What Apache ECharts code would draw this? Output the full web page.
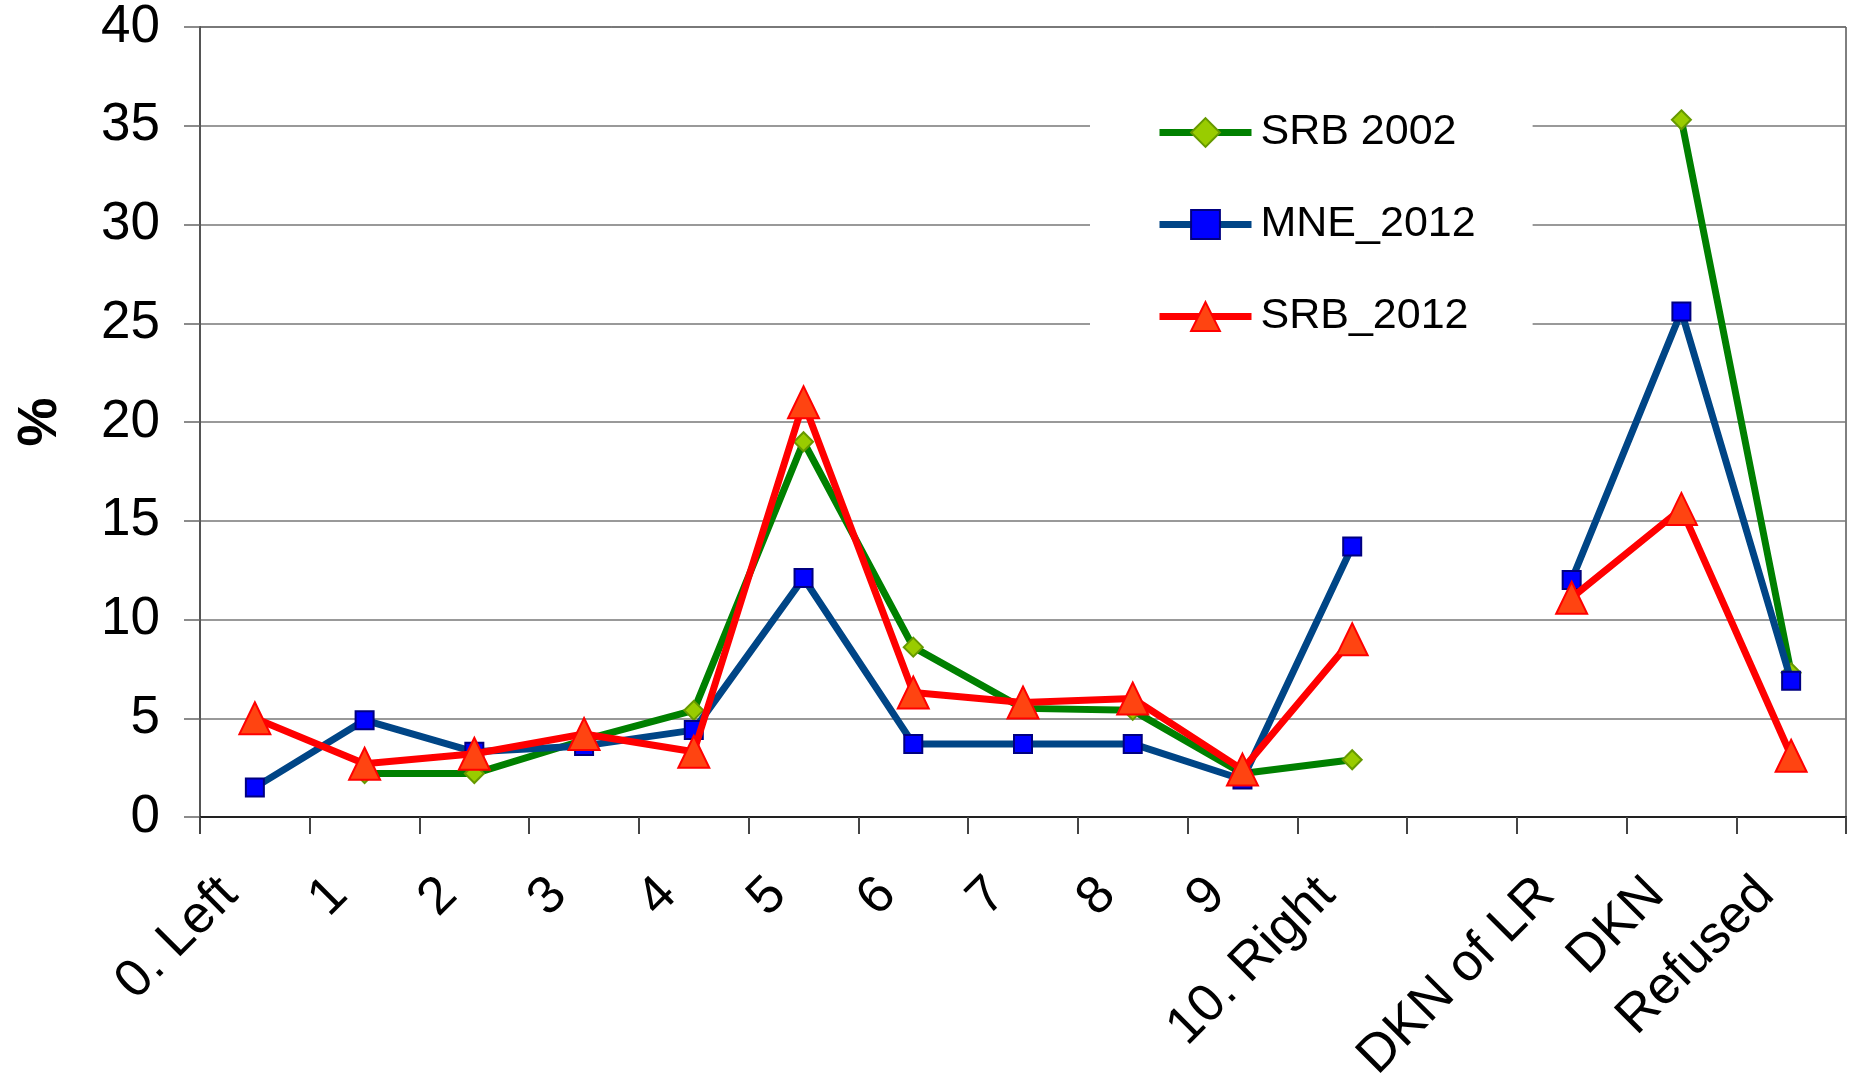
<!DOCTYPE html>
<html>
<head>
<meta charset="utf-8">
<script src="https://cdn.jsdelivr.net/npm/echarts@6/dist/echarts.min.js"></script>
<style>
  html, body { margin: 0; padding: 0; background: #fff; }
  #chart { width: 1849px; height: 1080px; }
</style>
</head>
<body>
<div id="chart"></div>
<script>
const categories = ["0. Left", "1", "2", "3", "4", "5", "6", "7", "8", "9", "10. Right", "", "DKN of LR", "DKN", "Refused"];
const srb2002 = [null, 2.2, 2.2, 3.9, 5.4, 19.0, 8.6, 5.5, 5.4, 2.2, 2.9, null, null, 35.3, 7.3];
const mne2012 = [1.5, 4.9, 3.3, 3.6, 4.4, 12.1, 3.7, 3.7, 3.7, 1.9, 13.7, null, 12.0, 25.6, 6.9];
const srb2012 = [5.0, 2.7, 3.2, 4.2, 3.3, 21.0, 6.3, 5.8, 6.0, 2.4, 9.0, null, 11.1, 15.6, 3.1];

const font = "Liberation Sans, Arial, sans-serif";
const chart = echarts.init(document.getElementById("chart"));

chart.setOption({
  animation: false,
  textStyle: { fontFamily: font },
  grid: {
    left: 200, right: 3, top: 27, bottom: 263,
    outerBoundsMode: "none",
    show: true, borderColor: "#000", borderWidth: 1
  },
  legend: {
    orient: "vertical",
    left: 1090, top: 89,
    backgroundColor: "#fff",
    padding: [22, 57, 24, 66],
    itemGap: 49,
    itemWidth: 92,
    itemHeight: 36,
    lineStyle: { width: 7 },
    textStyle: { fontSize: 43, color: "#000", fontFamily: font, padding: [0, 0, 0, 4] },
    data: ["SRB 2002", "MNE_2012", "SRB_2012"]
  },
  xAxis: {
    type: "category",
    data: categories,
    boundaryGap: true,
    axisLine: { lineStyle: { color: "#222", width: 2 } },
    axisTick: { show: true, length: 17, lineStyle: { color: "#444", width: 2 } },
    axisLabel: {
      rotate: 45, fontSize: 53, color: "#000", margin: 44, interval: 0,
      padding: [0, 36, 0, 0]
    },
    splitLine: { show: false }
  },
  yAxis: {
    type: "value",
    min: 0, max: 40, interval: 5,
    name: "%",
    nameLocation: "middle",
    nameRotate: 90,
    nameGap: 132,
    nameMoveOverlap: false,
    nameTextStyle: { fontSize: 55, fontWeight: "bold", color: "#000" },
    axisLine: { show: true, lineStyle: { color: "#555", width: 2 } },
    axisTick: { show: true, length: 16, lineStyle: { color: "#666", width: 1.5 } },
    axisLabel: { fontSize: 53, color: "#000", margin: 40 },
    splitLine: { lineStyle: { color: "#777", width: 1.5 } }
  },
  series: [
    {
      name: "SRB 2002",
      type: "line",
      data: srb2002,
      symbol: "diamond",
      symbolSize: 19,
      showAllSymbol: true,
      lineStyle: { color: "#008000", width: 7 },
      itemStyle: { color: "#99cc00", borderColor: "#669900", borderWidth: 2 },
      z: 2
    },
    {
      name: "MNE_2012",
      type: "line",
      data: mne2012,
      symbol: "rect",
      symbolSize: 18,
      showAllSymbol: true,
      lineStyle: { color: "#004586", width: 7 },
      itemStyle: { color: "#0000ff", borderColor: "#000080", borderWidth: 2 },
      z: 3
    },
    {
      name: "SRB_2012",
      type: "line",
      data: srb2012,
      symbol: "triangle",
      symbolSize: [31, 32],
      showAllSymbol: true,
      lineStyle: { color: "#ff0000", width: 7 },
      itemStyle: { color: "#ff4411", borderColor: "#ff0000", borderWidth: 2 },
      z: 4
    }
  ]
});
</script>
</body>
</html>
